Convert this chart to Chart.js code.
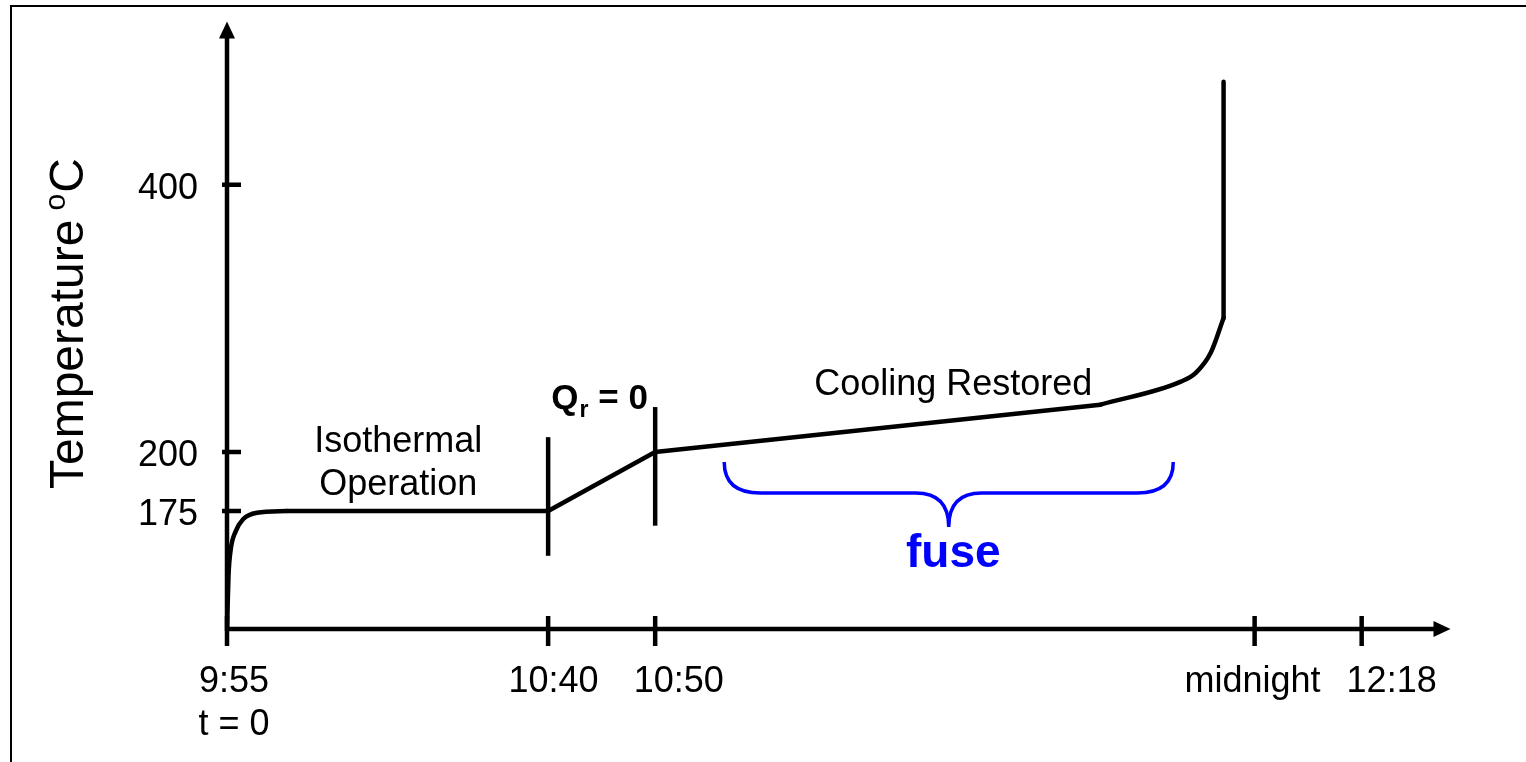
<!DOCTYPE html>
<html>
<head>
<meta charset="utf-8">
<title>Temperature vs time</title>
<script src="https://cdn.jsdelivr.net/npm/chart.js@4.4.1/dist/chart.umd.min.js"></script>
<style>
  html, body { margin: 0; padding: 0; background: #fff; }
  canvas { display: block; }
</style>
</head>
<body>
<canvas id="tempChart" width="1526" height="762"></canvas>
<script>
// The sketch is schematic: both axes are in drawing units, not to scale.
// Tick labels are hung on those units.
const xTickPos = [0, 3, 4, 9.6, 10.6];
const xTickLabels = [['9:55', 't = 0'], ['10:40'], ['10:50'], ['midnight'], ['12:18']];
const xLabelPos = [0.065, 3.05, 4.22, 9.58, 10.88];
const yTickPos = [2, 3, 7.525];
const yTickLabels = ['175', '200', '400'];

// temperature trace, split where the curve is smooth vs straight
const warmupX = [0, 0.014, 0.035, 0.08, 0.15, 0.28, 0.56];
const warmupY = [0, 0.9, 1.35, 1.65, 1.86, 1.97, 2.0];
const runX = [0.56, 3, 4, 8.16];
const runY = [2.0, 2.0, 3.0, 3.80];
const bendX = [8.16, 8.91, 9.05, 9.19, 9.31];
const bendY = [3.80, 4.19, 4.34, 4.68, 5.27];
const spikeX = [9.31, 9.31];
const spikeY = [5.27, 9.27];

// vertical event markers at 10:40 and 10:50
const markerX = [3, 4];
const markerLow = [1.24, 1.75];
const markerHigh = [3.25, 3.76];

// span of the "fuse" brace
const fuseSpan = [4.645, 8.84];

const FONT = '"Liberation Sans", Arial, sans-serif';
const X_MAX = 11.5, Y_MAX = 10.3;

function pts(xs, ys) {
    return xs.map((v, i) => ({ x: v, y: ys[i] }));
}

function traceSet(xs, ys, smooth) {
    return {
        data: pts(xs, ys),
        borderColor: '#000',
        borderWidth: 4.5,
        pointRadius: 0,
        fill: false,
        tension: 0,
        cubicInterpolationMode: smooth ? 'monotone' : 'default',
        borderCapStyle: 'round',
        borderJoinStyle: 'round'
    };
}

const datasets = [
    traceSet(warmupX, warmupY, true),
    traceSet(runX, runY, false),
    traceSet(bendX, bendY, true),
    traceSet(spikeX, spikeY, false)
];
markerX.forEach((mx, i) => {
    datasets.push({
        data: pts([mx, mx], [markerLow[i], markerHigh[i]]),
        borderColor: '#000',
        borderWidth: 4.5,
        pointRadius: 0,
        fill: false
    });
});

// axes with arrows, ticks crossing the axis, and the frame
const schematicAxes = {
    id: 'schematicAxes',
    beforeDatasetsDraw(chart) {
        const { ctx, scales: { x, y } } = chart;
        const x0 = x.getPixelForValue(0);
        const y0 = y.getPixelForValue(0);
        const xTip = x.getPixelForValue(11.43);
        const yTip = y.getPixelForValue(10.29);

        ctx.save();
        // frame (only left and top edges show)
        ctx.strokeStyle = '#000';
        ctx.lineWidth = 2;
        ctx.beginPath();
        ctx.moveTo(11, 762);
        ctx.lineTo(11, 6);
        ctx.lineTo(1526, 6);
        ctx.stroke();

        ctx.lineWidth = 4.5;
        ctx.fillStyle = '#000';
        ctx.beginPath();
        ctx.moveTo(x0, y0 + 2);
        ctx.lineTo(x0, yTip + 14);
        ctx.moveTo(x0 - 2, y0);
        ctx.lineTo(xTip - 14, y0);
        ctx.stroke();

        ctx.beginPath();
        ctx.moveTo(x0, yTip);
        ctx.lineTo(x0 - 8, yTip + 17);
        ctx.lineTo(x0 + 8, yTip + 17);
        ctx.closePath();
        ctx.fill();
        ctx.beginPath();
        ctx.moveTo(xTip, y0);
        ctx.lineTo(xTip - 17, y0 - 8);
        ctx.lineTo(xTip - 17, y0 + 8);
        ctx.closePath();
        ctx.fill();

        ctx.beginPath();
        xTickPos.forEach(v => {
            const px = x.getPixelForValue(v);
            ctx.moveTo(px, y0 - 13);
            ctx.lineTo(px, y0 + 17);
        });
        yTickPos.forEach(v => {
            const py = y.getPixelForValue(v);
            ctx.moveTo(x0 - 5, py);
            ctx.lineTo(x0 + 14, py);
        });
        ctx.stroke();
        ctx.restore();
    },
    afterDatasetsDraw(chart) {
        const { ctx, scales: { x, y } } = chart;
        const x0 = x.getPixelForValue(0);
        const y0 = y.getPixelForValue(0);
        ctx.save();
        ctx.fillStyle = '#000';

        // tick labels
        ctx.font = '36px ' + FONT;
        ctx.textAlign = 'center';
        ctx.textBaseline = 'alphabetic';
        xTickLabels.forEach((lines, i) => {
            const px = x.getPixelForValue(xLabelPos[i]);
            lines.forEach((t, j) => ctx.fillText(t, px, y0 + 63 + j * 43));
        });
        ctx.textAlign = 'right';
        ctx.textBaseline = 'middle';
        yTickLabels.forEach((t, i) => {
            ctx.fillText(t, x0 - 29, y.getPixelForValue(yTickPos[i]) + 4);
        });

        // y axis title, rotated, with superscript o
        ctx.save();
        ctx.translate(83, 489);
        ctx.rotate(-Math.PI / 2);
        ctx.textAlign = 'left';
        ctx.textBaseline = 'alphabetic';
        ctx.font = '48px ' + FONT;
        ctx.fillText('Temperature', 0, 0);
        let off = ctx.measureText('Temperature').width + 9;
        ctx.font = '30px ' + FONT;
        ctx.fillText('o', off, -18);
        off += ctx.measureText('o').width + 1;
        ctx.font = '48px ' + FONT;
        ctx.fillText('C', off, 0);
        ctx.restore();

        // annotations
        ctx.textAlign = 'center';
        ctx.textBaseline = 'alphabetic';
        ctx.font = '36px ' + FONT;
        const isoX = x.getPixelForValue(1.6);
        const isoY = y.getPixelForValue(3.0);
        ctx.fillText('Isothermal', isoX, isoY);
        ctx.fillText('Operation', isoX, isoY + 43);
        ctx.fillText('Cooling Restored', x.getPixelForValue(6.785), y.getPixelForValue(3.966));

        // Q_r = 0
        ctx.textAlign = 'left';
        let qx = x.getPixelForValue(3.03);
        const qy = y.getPixelForValue(3.73);
        ctx.font = 'bold 35px ' + FONT;
        ctx.fillText('Q', qx, qy);
        qx += ctx.measureText('Q').width + 1;
        ctx.font = 'bold 23px ' + FONT;
        ctx.fillText('r', qx, qy + 8);
        qx += ctx.measureText('r').width;
        ctx.font = 'bold 35px ' + FONT;
        ctx.fillText(' = 0', qx, qy);

        // fuse brace
        const bl = x.getPixelForValue(fuseSpan[0]);
        const br = x.getPixelForValue(fuseSpan[1]);
        const bm = (bl + br) / 2;
        const bTop = y.getPixelForValue(2.83);
        const bMid = y.getPixelForValue(2.305);
        const bTip = y.getPixelForValue(1.73);
        ctx.strokeStyle = '#0000ff';
        ctx.lineWidth = 3.5;
        ctx.beginPath();
        ctx.moveTo(bl, bTop);
        ctx.quadraticCurveTo(bl, bMid, bl + 36, bMid);
        ctx.lineTo(bm - 33, bMid);
        ctx.quadraticCurveTo(bm, bMid, bm, bTip);
        ctx.quadraticCurveTo(bm, bMid, bm + 33, bMid);
        ctx.lineTo(br - 36, bMid);
        ctx.quadraticCurveTo(br, bMid, br, bTop);
        ctx.stroke();

        ctx.fillStyle = '#0000ff';
        ctx.textAlign = 'center';
        ctx.font = 'bold 46px ' + FONT;
        ctx.fillText('fuse', x.getPixelForValue(6.785), y.getPixelForValue(1.05));
        ctx.restore();
    }
};

const chart = new Chart(document.getElementById('tempChart'), {
    type: 'line',
    data: { datasets: datasets },
    options: {
        responsive: false,
        animation: false,
        layout: { padding: { left: 0, top: 21, right: 68, bottom: 0 } },
        plugins: {
            legend: { display: false },
            tooltip: { enabled: false }
        },
        scales: {
            x: {
                type: 'linear',
                min: 0,
                max: X_MAX,
                grid: { display: false },
                border: { display: false },
                ticks: { display: false },
                afterFit: scale => { scale.height = 133; }
            },
            y: {
                type: 'linear',
                min: 0,
                max: Y_MAX,
                grid: { display: false },
                border: { display: false },
                ticks: { display: false },
                afterFit: scale => { scale.width = 227; }
            }
        }
    },
    plugins: [schematicAxes]
});
</script>
</body>
</html>
